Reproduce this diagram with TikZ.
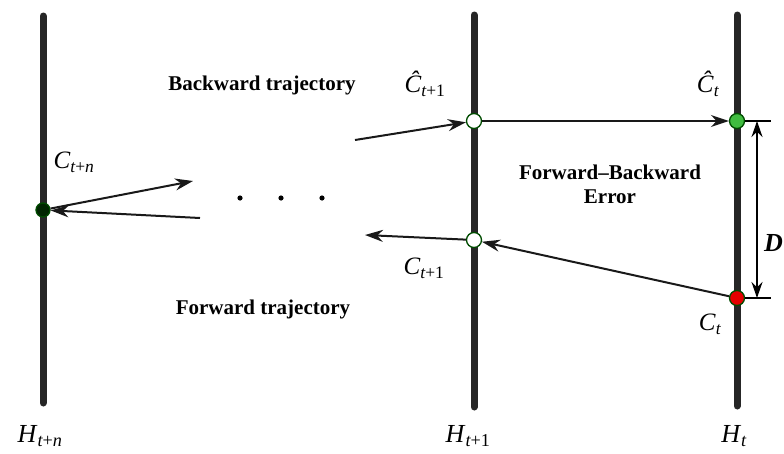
\documentclass[tikz,border=0pt]{standalone}
\usepackage{fontspec}
\setmainfont{Liberation Serif}
\usetikzlibrary{arrows.meta}
\newcommand{\lbl}[2]{\textit{#1}\textsubscript{#2}}
\begin{document}
\begin{tikzpicture}[x=1pt,y=-1pt,
  axis/.style={line width=7pt, line cap=round, black!85},
  arr/.style={line width=2pt, black!90, -{Stealth[length=18pt,width=12pt]}},
  dot/.style={circle, draw=green!30!black, line width=1.3pt, minimum size=15pt, inner sep=0pt},
  bold/.style={font=\fontsize{21}{24}\selectfont\bfseries},
  mlab/.style={font=\fontsize{25}{27}\selectfont},
  hlab/.style={font=\fontsize{26}{28}\selectfont}]
\useasboundingbox (0,0) rectangle (784,453);
% vertical lines
\coordinate (Ltop) at (43,16); \coordinate (Lbot) at (43,403);
\coordinate (Mtop) at (474,15); \coordinate (Mbot) at (474,407);
\coordinate (Rtop) at (737,15); \coordinate (Rbot) at (737,406);
\draw[axis] (Ltop) -- (Lbot);
\draw[axis] (Mtop) -- (Mbot);
\draw[axis] (Rtop) -- (Rbot);
% points
\node[dot, fill=black!85!green, minimum size=14pt] (cn) at (43,210) {};
\node[dot, fill=white] (ch1) at (474,121) {};
\node[dot, fill=white] (c1) at (474,240) {};
\node[dot, fill=green!65!black!75] (cht) at (737,121) {};
\node[dot, fill=red!90!black] (ct) at (737,298) {};
% free ends
\coordinate (bstart) at (355,140);
\coordinate (fend) at (365,235);
\coordinate (lout) at (193,181);
\coordinate (lin) at (200,218);
% arrows
\draw[arr] (bstart) -- (ch1);
\draw[arr] (ch1) -- (cht);
\draw[arr] (ct) -- (c1);
\draw[arr] (c1) -- (fend);
\draw[arr] (cn) -- (lout);
\draw[arr] (lin) -- (cn);
% dots
\foreach \x in {240,281,322} \fill (\x,198) circle (2.6pt);
% D dimension
\coordinate (dt1) at (771,121); \coordinate (dt2) at (771,298);
\coordinate (da) at (757,121); \coordinate (db) at (757,298);
\draw[line width=1.2pt] (cht) -- (dt1);
\draw[line width=1.2pt] (ct) -- (dt2);
\draw[line width=1.6pt, {Stealth[length=16pt,width=11pt]}-{Stealth[length=16pt,width=11pt]}] (da) -- (db);
\node[font=\fontsize{26}{28}\selectfont\bfseries\itshape, anchor=east, inner sep=1pt] (D) at (784,243) {D};
% labels
\node[bold] (bt) at (262,85) {Backward trajectory};
\node[bold] (ft) at (263,309) {Forward trajectory};
\node[bold, align=center] (fbe) at (610,184) {Forward--Backward\\Error};
\node[mlab] (lch1) at (425,84) {\lbl{\^{C}}{\itshape t\upshape+1}};
\node[mlab] (lcht) at (708,84) {\lbl{\^{C}}{\itshape t}};
\node[mlab] (lcn) at (74,162) {\lbl{C}{\itshape t\upshape+\itshape n}};
\node[mlab] (lc1) at (424,268) {\lbl{C}{\itshape t\upshape+1}};
\node[mlab] (lct) at (710,324) {\lbl{C}{\itshape t}};
\node[hlab] (hn) at (40,436) {\lbl{H}{\itshape t\upshape+\itshape n}};
\node[hlab] (h1) at (468,436) {\lbl{H}{\itshape t\upshape+1}};
\node[hlab] (ht) at (734,436) {\lbl{H}{\itshape t}};
\end{tikzpicture}
\end{document}
